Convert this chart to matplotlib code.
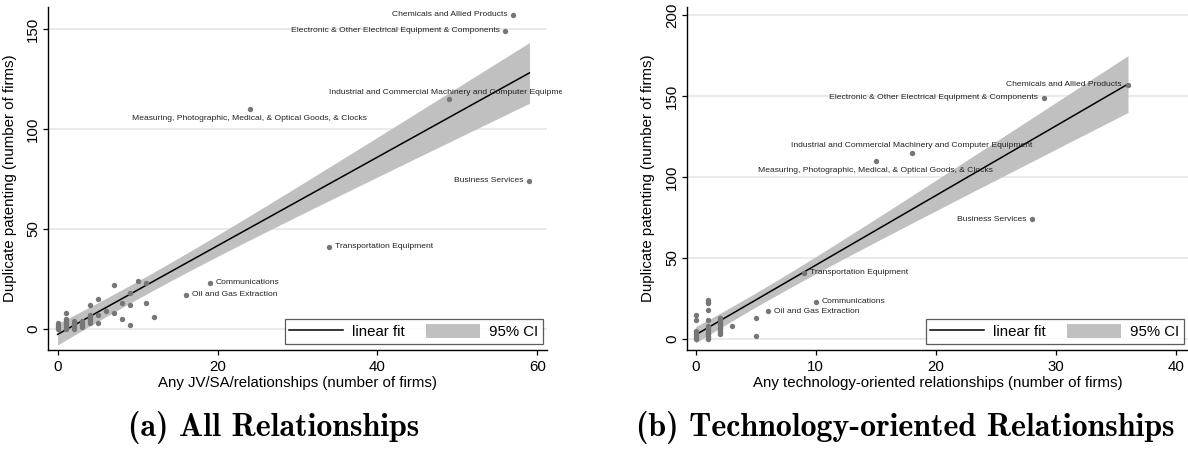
import os
import matplotlib
matplotlib.use('Agg')
import matplotlib.pyplot as plt
from matplotlib.patches import Rectangle, Patch
from matplotlib.lines import Line2D
from matplotlib import font_manager
import numpy as np

# labelled industries, shared by both panels
industries = ['Chemicals and Allied Products',
              'Electronic & Other Electrical Equipment & Components',
              'Industrial and Commercial Machinery and Computer Equipment',
              'Measuring, Photographic, Medical, & Optical Goods, & Clocks',
              'Business Services',
              'Transportation Equipment',
              'Communications',
              'Oil and Gas Extraction']
label_pos = ['left', 'left', 'above', 'below', 'left', 'right', 'right', 'right']
dup_named = [157, 149, 115, 110, 74, 41, 23, 17]
jv_named = [57, 56, 49, 24, 59, 34, 19, 16]
tech_named = [36, 29, 18, 15, 28, 9, 10, 6]

# remaining (unlabelled) industries, panel (a)
jv_other = [0, 0, 0, 0, 1, 1, 1, 1, 1, 1, 1, 2, 2, 2, 2, 2, 3, 3, 3, 3,
            4, 4, 4, 4, 4, 4, 5, 5, 5, 6, 7, 7, 8, 8, 9, 9, 9, 10, 11, 11, 12]
dup_jv_other = [0, 1, 2, 3, 0, 1, 2, 3, 4, 5, 8, 0, 1, 2, 3, 4, 1, 2, 3, 4,
                3, 4, 5, 6, 7, 12, 3, 7, 15, 9, 8, 22, 5, 13, 2, 12, 18, 24, 13, 23, 6]

# remaining industries, panel (b)
tech_other = [0] * 8 + [1] * 14 + [2] * 11 + [3, 5, 5]
dup_tech_other = [0, 1, 2, 3, 4, 5, 12, 15,
                  0, 1, 2, 3, 4, 5, 6, 7, 8, 12, 18, 22, 23, 24,
                  3, 4, 5, 6, 7, 8, 9, 10, 11, 12, 13,
                  8, 2, 13]

x_labels = ['Any JV/SA/relationships (number of firms)',
            'Any technology-oriented relationships (number of firms)']
y_label = 'Duplicate patenting (number of firms)'
captions = ['(a) All Relationships', '(b) Technology-oriented Relationships']

plt.rcParams['font.family'] = ['Liberation Sans', 'DejaVu Sans']

DOT = '#767676'
BAND = '#c0c0c0'
GRID = '#e8e8e8'
FS = 10.8

W, H = 1188, 457
fig = plt.figure(figsize=(W / 100, H / 100), dpi=100)
fig.patch.set_facecolor('white')


def px_axes(x0, x1, y0, y1):
    return fig.add_axes([x0 / W, 1 - y1 / H, (x1 - x0) / W, (y1 - y0) / H])


def lfitci(x, y, xs):
    x = np.asarray(x, float)
    y = np.asarray(y, float)
    n = len(x)
    b, a = np.polyfit(x, y, 1)
    resid = y - (a + b * x)
    s = np.sqrt(np.sum(resid ** 2) / (n - 2))
    sxx = np.sum((x - x.mean()) ** 2)
    se = s * np.sqrt(1.0 / n + (xs - x.mean()) ** 2 / sxx)
    t = 2.01
    fit = a + b * xs
    return fit, fit - t * se, fit + t * se


def panel(ax, x_named, x_other, y_other, xlim, ylim, yticks, xticks, clip_right):
    x_all = list(x_other) + list(x_named)
    y_all = list(y_other) + list(dup_named)
    xs = np.linspace(min(x_all), max(x_all), 200)
    fit, lo, hi = lfitci(x_all, y_all, xs)

    for yt in yticks:
        ax.axhline(yt, color=GRID, lw=1.3, zorder=0)
    ax.fill_between(xs, lo, hi, color=BAND, lw=0, zorder=1)
    ax.plot(xs, fit, color='black', lw=1.1, zorder=2)
    ax.scatter(x_all, y_all, s=15, color=DOT, lw=0, zorder=3)

    # long labels may run past the axes but stop at the panel edge
    clip = Rectangle((0, 0), clip_right / W, 1, transform=fig.transFigure)
    for name, xv, yv, pos in zip(industries, x_named, dup_named, label_pos):
        if pos == 'left':
            off, ha, va = (-4.3, 0), 'right', 'center'
        elif pos == 'right':
            off, ha, va = (4.3, 0), 'left', 'center'
        elif pos == 'above':
            off, ha, va = (0, 5.0), 'center', 'center'
        else:
            off, ha, va = (0, -7.0), 'center', 'center'
        t = ax.annotate(name, (xv, yv), xytext=off, textcoords='offset points',
                        ha=ha, va=va, fontsize=6.1, color='#222222', zorder=4)
        t.set_clip_path(clip)
        t.set_clip_on(True)

    ax.set_xlim(*xlim)
    ax.set_ylim(*ylim)
    ax.set_xticks(xticks)
    ax.set_yticks(yticks)
    ax.tick_params(axis='both', direction='out', length=3.6, width=0.9,
                   labelsize=FS, colors='black')
    ax.tick_params(axis='y', pad=2)
    for lab in ax.get_yticklabels():
        lab.set_rotation(90)
        lab.set_va('center')
    for side in ('top', 'right'):
        ax.spines[side].set_visible(False)
    for side in ('left', 'bottom'):
        ax.spines[side].set_linewidth(1.0)

    handles = [Line2D([], [], color='black', lw=1.1),
               Patch(facecolor=BAND, edgecolor='none')]
    leg = ax.legend(handles, ['linear fit', '95% CI'], ncol=2, loc='lower right',
                    bbox_to_anchor=(1.0, 0.005), frameon=True, fancybox=False,
                    edgecolor='#333333', fontsize=FS, handlelength=3.6,
                    handleheight=1.1, columnspacing=1.4, borderpad=0.3,
                    handletextpad=0.6, borderaxespad=0.3)
    leg.get_frame().set_linewidth(0.9)
    return ax


ax1 = px_axes(48, 547, 7, 350)
panel(ax1, jv_named, jv_other, dup_jv_other,
      (-1.2, 61.2), (-10.5, 161), [0, 50, 100, 150], [0, 20, 40, 60], 562)
ax1.set_xlabel(x_labels[0], fontsize=FS)
ax1.set_ylabel(y_label, fontsize=FS)
ax1.xaxis.set_label_coords(0.5, -0.077)
ax1.yaxis.set_label_coords(-0.062, 0.5)

ax2 = px_axes(686.7, 1188, 7, 350)
panel(ax2, tech_named, tech_other, dup_tech_other,
      (-0.75, 41.0), (-6.8, 205), [0, 50, 100, 150, 200], [0, 10, 20, 30, 40], W)
ax2.set_xlabel(x_labels[1], fontsize=FS)
ax2.set_ylabel(y_label, fontsize=FS)
ax2.xaxis.set_label_coords(0.5, -0.077)
ax2.yaxis.set_label_coords(-0.063, 0.5)

# sub-figure captions in Computer Modern bold
cm_bold = os.path.join(matplotlib.get_data_path(), 'fonts', 'ttf', 'cmb10.ttf')
font_manager.fontManager.addfont(cm_bold)
cap_family = [font_manager.FontProperties(fname=cm_bold).get_name(), 'DejaVu Serif']
fig.text(128 / W, 1 - 428 / H, captions[0], family=cap_family, fontsize=23,
         ha='left', va='center')
fig.text(636 / W, 1 - 428 / H, captions[1], family=cap_family, fontsize=23,
         ha='left', va='center')

fig.savefig('out.png', dpi=100)
